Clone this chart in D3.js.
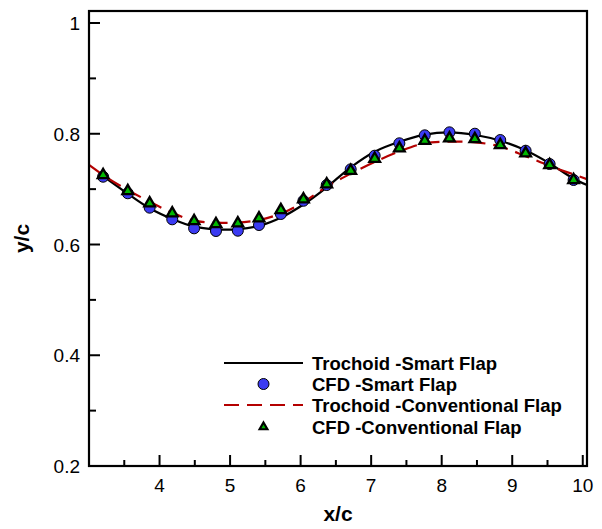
<!DOCTYPE html>
<html>
<head>
<meta charset="utf-8">
<script src="https://cdn.jsdelivr.net/npm/d3@7"></script>
<style>
  html, body { margin: 0; padding: 0; background: #fff; }
  svg { display: block; }
  text { font-family: "Liberation Sans", Arial, Helvetica, sans-serif; fill: #000; }
</style>
</head>
<body>
<svg id="chart" width="602" height="529"></svg>
<script>
// ---- data ----
const trochoidSmartX = [3.2, 3.53, 3.86, 4.18, 4.49, 4.80, 5.10, 5.41, 5.73, 6.05, 6.37, 6.71, 7.05, 7.40, 7.76, 8.11, 8.48, 8.84, 9.18, 9.53, 9.86, 10.06];
const trochoidSmartY = [0.7235, 0.6935, 0.6654, 0.646, 0.6322, 0.6274, 0.6274, 0.6334, 0.6491, 0.6731, 0.7033, 0.7394, 0.7676, 0.7855, 0.7985, 0.8026, 0.7977, 0.787, 0.7706, 0.7466, 0.7196, 0.7074];

const trochoidConvX = [3.0, 3.22, 3.53, 3.86, 4.18, 4.49, 4.80, 5.10, 5.41, 5.73, 6.05, 6.37, 6.71, 7.05, 7.40, 7.76, 8.11, 8.48, 8.84, 9.18, 9.53, 9.86, 10.06];
const trochoidConvY = [0.7436, 0.7237, 0.6997, 0.6773, 0.6574, 0.643, 0.6394, 0.6394, 0.6442, 0.6563, 0.6773, 0.7045, 0.728, 0.749, 0.768, 0.7828, 0.7857, 0.7845, 0.7766, 0.760, 0.742, 0.727, 0.718];

const cfdX = [3.20, 3.55, 3.86, 4.18, 4.49, 4.80, 5.11, 5.41, 5.72, 6.04, 6.37, 6.71, 7.05, 7.40, 7.76, 8.11, 8.47, 8.83, 9.19, 9.53, 9.87];
const cfdSmartY = [0.7224, 0.6925, 0.6665, 0.6455, 0.6292, 0.6244, 0.6249, 0.6352, 0.6551, 0.679, 0.7074, 0.7358, 0.7604, 0.7828, 0.7972, 0.8026, 0.8001, 0.7887, 0.7694, 0.7454, 0.7165];
const cfdConvY = [0.7255, 0.6966, 0.6744, 0.6563, 0.6424, 0.637, 0.6383, 0.6473, 0.6623, 0.6816, 0.7087, 0.7333, 0.755, 0.7737, 0.7874, 0.7918, 0.7905, 0.7797, 0.7647, 0.7436, 0.7165];

const xMajorTicks = [4, 5, 6, 7, 8, 9, 10];
const xMinorTicks = [3.5, 4.5, 5.5, 6.5, 7.5, 8.5, 9.5];
const yMajorTicks = [0.2, 0.4, 0.6, 0.8, 1.0];
const yMinorTicks = [0.3, 0.5, 0.7, 0.9];
const yTickLabels = ["0.2", "0.4", "0.6", "0.8", "1"];

const legendLabels = ["Trochoid -Smart Flap", "CFD -Smart Flap", "Trochoid -Conventional Flap", "CFD -Conventional Flap"];

// ---- layout ----
const svg = d3.select("#chart");
const plot = { left: 89, right: 587, top: 11, bottom: 466 };

const x = d3.scaleLinear().domain([3.0, 10.06]).range([plot.left, plot.right]);
const y = d3.scaleLinear().domain([0.2, 1.0217]).range([plot.bottom, plot.top]);

const blue = "#3b3bf2", green = "#00b800", red = "#b40000";

svg.append("defs").append("clipPath").attr("id", "clip")
  .append("rect").attr("x", plot.left).attr("y", plot.top)
  .attr("width", plot.right - plot.left).attr("height", plot.bottom - plot.top);

const g = svg.append("g").attr("clip-path", "url(#clip)");

const line = d3.line().x(d => x(d[0])).y(d => y(d[1])).curve(d3.curveCatmullRom.alpha(0.5));

g.append("path")
  .datum(trochoidSmartX.map((v, i) => [v, trochoidSmartY[i]]))
  .attr("d", line).attr("fill", "none").attr("stroke", "#000").attr("stroke-width", 2.2);

g.append("path")
  .datum(trochoidConvX.map((v, i) => [v, trochoidConvY[i]]))
  .attr("d", line).attr("fill", "none").attr("stroke", red).attr("stroke-width", 2.2)
  .attr("stroke-dasharray", "15,8");

g.selectAll("circle.cfd").data(cfdX.map((v, i) => [v, cfdSmartY[i]]))
  .enter().append("circle").attr("class", "cfd")
  .attr("cx", d => x(d[0])).attr("cy", d => y(d[1])).attr("r", 5.5)
  .attr("fill", blue).attr("stroke", "#000").attr("stroke-width", 1);

const tri = d3.symbol().type(d3.symbolTriangle).size(50);
g.selectAll("path.tri").data(cfdX.map((v, i) => [v, cfdConvY[i]]))
  .enter().append("path").attr("class", "tri")
  .attr("d", tri)
  .attr("transform", d => `translate(${x(d[0])},${y(d[1])})`)
  .attr("fill", green).attr("stroke", "#000").attr("stroke-width", 2.3).attr("stroke-linejoin", "miter");

// ---- axes ----
const axes = svg.append("g");
axes.append("rect").attr("x", plot.left).attr("y", plot.top)
  .attr("width", plot.right - plot.left).attr("height", plot.bottom - plot.top)
  .attr("fill", "none").attr("stroke", "#000").attr("stroke-width", 2.2);

axes.selectAll("line.xmaj").data(xMajorTicks).enter().append("line")
  .attr("x1", d => x(d)).attr("x2", d => x(d))
  .attr("y1", plot.bottom).attr("y2", plot.bottom - 11)
  .attr("stroke", "#000").attr("stroke-width", 2);
axes.selectAll("line.xmin").data(xMinorTicks).enter().append("line")
  .attr("x1", d => x(d)).attr("x2", d => x(d))
  .attr("y1", plot.bottom).attr("y2", plot.bottom - 6)
  .attr("stroke", "#000").attr("stroke-width", 2);
axes.selectAll("text.xl").data(xMajorTicks).enter().append("text")
  .attr("x", d => x(d)).attr("y", 492)
  .attr("text-anchor", "middle").attr("font-size", 19)
  .text(d => d);

axes.selectAll("line.ymaj").data(yMajorTicks).enter().append("line")
  .attr("x1", plot.left).attr("x2", plot.left + 11)
  .attr("y1", d => y(d)).attr("y2", d => y(d))
  .attr("stroke", "#000").attr("stroke-width", 2);
axes.selectAll("line.ymin").data(yMinorTicks).enter().append("line")
  .attr("x1", plot.left).attr("x2", plot.left + 7)
  .attr("y1", d => y(d)).attr("y2", d => y(d))
  .attr("stroke", "#000").attr("stroke-width", 2);
axes.selectAll("text.yl").data(yMajorTicks).enter().append("text")
  .attr("x", 80).attr("y", d => y(d) + 7)
  .attr("text-anchor", "end").attr("font-size", 19)
  .text((d, i) => yTickLabels[i]);

svg.append("text").attr("x", (plot.left + plot.right) / 2).attr("y", 521)
  .attr("text-anchor", "middle").attr("font-size", 21).attr("font-weight", "bold")
  .text("x/c");
svg.append("text").attr("transform", `translate(29,${(plot.top + plot.bottom) / 2}) rotate(-90)`)
  .attr("text-anchor", "middle").attr("font-size", 21).attr("font-weight", "bold")
  .text("y/c");

// ---- legend ----
const legY = [363, 384, 405, 427];
const lg = svg.append("g");
lg.append("line").attr("x1", 224).attr("x2", 303).attr("y1", legY[0]).attr("y2", legY[0])
  .attr("stroke", "#000").attr("stroke-width", 2.2);
lg.append("circle").attr("cx", 263.5).attr("cy", legY[1]).attr("r", 5.5)
  .attr("fill", blue).attr("stroke", "#000").attr("stroke-width", 1);
lg.append("line").attr("x1", 224).attr("x2", 303).attr("y1", legY[2]).attr("y2", legY[2])
  .attr("stroke", red).attr("stroke-width", 2.2).attr("stroke-dasharray", "15,8");
lg.append("path").attr("d", d3.symbol().type(d3.symbolTriangle).size(26))
  .attr("transform", `translate(263.5,${legY[3]})`)
  .attr("fill", green).attr("stroke", "#000").attr("stroke-width", 2.2);
lg.selectAll("text").data(legendLabels).enter().append("text")
  .attr("x", 312).attr("y", (d, i) => legY[i] + 6.5)
  .attr("font-size", 18.5).attr("font-weight", "bold")
  .text(d => d);
</script>
</body>
</html>
